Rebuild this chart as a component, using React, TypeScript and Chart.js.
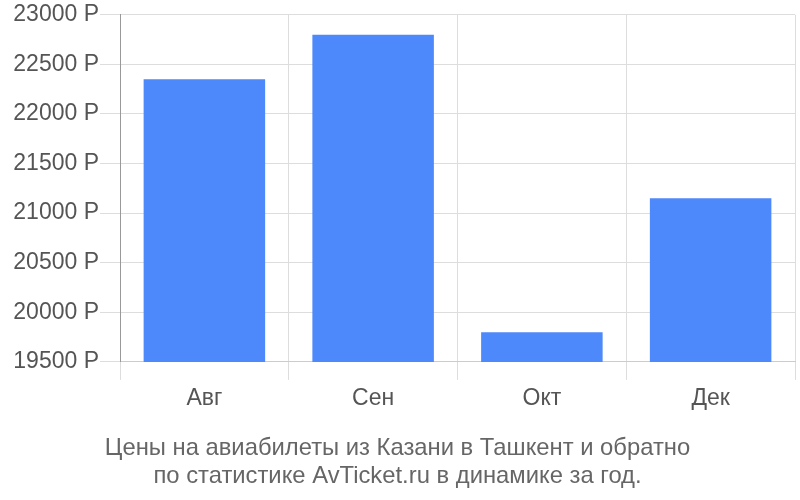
import { useEffect, useRef } from 'react';
import { Chart, registerables } from 'chart.js';

Chart.register(...registerables);

const months = ['Авг', 'Сен', 'Окт', 'Дек'];
const prices = [22350, 22800, 19800, 21150];
const yMin = 19500;
const yMax = 23000;
const yStep = 500;
const titleLines = [
  'Цены на авиабилеты из Казани в Ташкент и обратно',
  'по статистике AvTicket.ru в динамике за год.',
];

export default function App() {
  const canvasRef = useRef<HTMLCanvasElement>(null);
  const chartRef = useRef<Chart | null>(null);

  useEffect(() => {
    if (!canvasRef.current) return;
    if (chartRef.current) chartRef.current.destroy();

    const font = "'Liberation Sans', Arial, sans-serif";

    chartRef.current = new Chart(canvasRef.current, {
      type: 'bar',
      data: {
        labels: months,
        datasets: [
          {
            data: prices,
            backgroundColor: '#4d89fa',
            borderWidth: 0,
            barPercentage: 0.72,
            categoryPercentage: 1,
          },
        ],
      },
      options: {
        animation: false,
        responsive: true,
        maintainAspectRatio: false,
        layout: { padding: { top: 3, right: 5, left: 0, bottom: 0 } },
        plugins: {
          legend: { display: false },
          tooltip: { enabled: false },
          title: {
            display: true,
            position: 'bottom',
            text: titleLines,
            color: '#666',
            font: { family: font, size: 23.8, weight: 'normal', lineHeight: 1.2 },
            padding: { top: 12, bottom: 9 },
          },
        },
        scales: {
          x: {
            grid: { color: '#ddd', offset: true, tickLength: 18 },
            border: { color: '#ccc' },
            ticks: { color: '#555', font: { family: font, size: 23 }, padding: 5 },
            afterFit: (scale: any) => { scale.height = 60; },
          },
          y: {
            min: yMin,
            max: yMax,
            grid: { color: '#ddd', tickLength: 20 },
            border: { color: '#999' },
            ticks: {
              stepSize: yStep,
              color: '#555',
              font: { family: font, size: 23 },
              padding: 1,
              callback: (v: any) => `${v} Р`,
            },
            afterFit: (scale: any) => { scale.width = 120; },
          },
        },
      },
    });

    return () => { if (chartRef.current) chartRef.current.destroy(); };
  }, []);

  return (
    <div style={{ position: 'absolute', left: 0, top: 0, width: 800, height: 500, background: '#fff' }}>
      <canvas ref={canvasRef} />
    </div>
  );
}
